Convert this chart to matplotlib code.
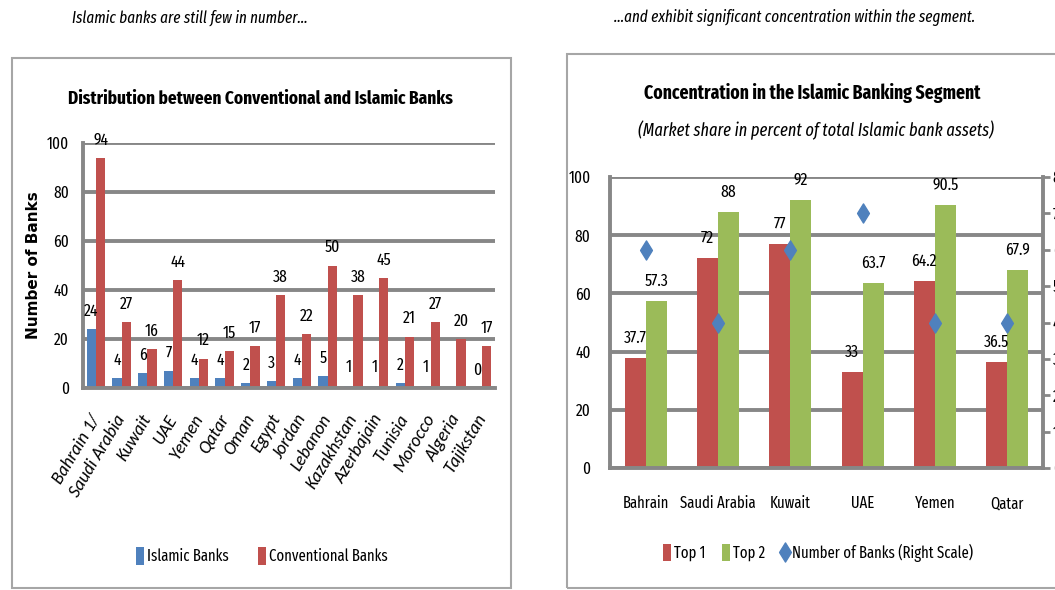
import matplotlib
matplotlib.use("Agg")
import matplotlib.pyplot as plt
from matplotlib.patches import Rectangle
from matplotlib.path import Path
import numpy as np

FONT = "Fira Sans Extra Condensed"
plt.rcParams['font.family'] = [FONT, 'DejaVu Sans']

# left chart data
countries = ["Bahrain 1/", "Saudi Arabia", "Kuwait", "UAE", "Yemen", "Qatar", "Oman", "Egypt",
             "Jordan", "Lebanon", "Kazakhstan", "Azerbajain", "Tunisia", "Morocco", "Algeria", "Tajikstan"]
islamic = [24, 4, 6, 7, 4, 4, 2, 3, 4, 5, 1, 1, 2, 1, np.nan, 0]
conventional = [94, 27, 16, 44, 12, 15, 17, 38, 22, 50, 38, 45, 21, 27, 20, 17]

# right chart data
seg_countries = ["Bahrain", "Saudi Arabia", "Kuwait", "UAE", "Yemen", "Qatar"]
top1 = [37.7, 72, 77, 33, 64.2, 36.5]
top2 = [57.3, 88, 92, 63.7, 90.5, 67.9]
n_banks = [6, 4, 6, 7, 4, 4]

BLUE = "#4F81BD"
RED = "#C0504D"
GREEN = "#9BBB59"
GRID = "#878787"
W, H = 1055, 590
FS = 11.5
LFS = 12.2   # data labels

fig = plt.figure(figsize=(10.55, 5.9), dpi=100)


def fx(px):
    return px / W


def fy(py):
    return 1 - py / H


# boxes around the two charts
fig.patches.append(Rectangle((fx(12), fy(588)), fx(499), (588 - 58) / H,
                             transform=fig.transFigure, fill=False, ec="#A6A6A6", lw=1.5))
fig.patches.append(Rectangle((fx(567), fy(588)), 0.5, (588 - 54) / H,
                             transform=fig.transFigure, fill=False, ec="#A6A6A6", lw=1.5))

fig.text(fx(190), fy(18), "Islamic banks are still few in number...", style="italic",
         ha="center", va="center", fontsize=11.8)
fig.text(fx(795), fy(18), "...and exhibit significant concentration within the segment.",
         style="italic", ha="center", va="center", fontsize=11.8)


def style_axes(ax):
    ax.yaxis.grid(True, color=GRID, lw=2.8)
    ax.set_axisbelow(True)
    for s in ["top", "right"]:
        ax.spines[s].set_visible(False)
    for s in ["left", "bottom"]:
        ax.spines[s].set_color(GRID)
        ax.spines[s].set_linewidth(2.8)
    ax.tick_params(axis="both", length=0, labelsize=FS, pad=6)


# ---- left chart
ax1 = fig.add_axes([fx(83), fy(388), fx(495 - 83), (388 - 143) / H])
x = np.arange(len(countries))
w = 0.36
b1 = ax1.bar(x - w / 2, islamic, w, color=BLUE)
b2 = ax1.bar(x + w / 2, conventional, w, color=RED)
for xi, v in zip(x, islamic):
    if not np.isnan(v):
        ax1.text(xi - w / 2, v + 4, f"{int(v)}", ha="center", va="bottom", fontsize=LFS)
for xi, v in zip(x, conventional):
    ax1.text(xi + w / 2, v + 4, f"{int(v)}", ha="center", va="bottom", fontsize=LFS)
ax1.set_ylim(0, 100)
ax1.set_xlim(-0.5, len(countries) - 0.5)
ax1.set_yticks(range(0, 101, 20))
ax1.set_xticks(x)
ax1.set_xticklabels(countries, rotation=59, ha="right", va="center", rotation_mode="anchor",
                    style="italic", family="Carlito", fontsize=13)
style_axes(ax1)
ax1.tick_params(axis="x", pad=20, labelsize=13)
ax1.tick_params(axis="y", pad=10, labelsize=12)
ax1.set_ylabel("Number of Banks", fontsize=11, fontweight="bold", family="DejaVu Sans")
ax1.yaxis.set_label_coords(-0.102, 0.5)
fig.text(fx(260), fy(99), "Distribution between Conventional and Islamic Banks",
         fontsize=13.5, fontweight="bold", ha="center", va="center")
ax1.legend([b1, b2], ["Islamic Banks", "Conventional Banks"], loc="center",
           bbox_to_anchor=(fx(262), fy(556)), bbox_transform=fig.transFigure,
           ncol=2, frameon=False, fontsize=FS, handlelength=0.5, handleheight=1.3,
           handletextpad=0.2, columnspacing=1.8)

# ---- right chart
ax2 = fig.add_axes([fx(610), fy(468), fx(1043 - 610), (468 - 177) / H])
x2 = np.arange(len(seg_countries))
w2 = 0.29
r1 = ax2.bar(x2 - w2 / 2, top1, w2, color=RED)
r2 = ax2.bar(x2 + w2 / 2, top2, w2, color=GREEN)
for xi, v in zip(x2, top1):
    ax2.text(xi - w2 / 2, v + 4, f"{v:g}", ha="center", va="bottom", fontsize=LFS)
for xi, v in zip(x2, top2):
    ax2.text(xi + w2 / 2, v + 4, f"{v:g}", ha="center", va="bottom", fontsize=LFS)
ax2.set_ylim(0, 100)
ax2.set_xlim(-0.5, len(seg_countries) - 0.5)
ax2.set_yticks(range(0, 101, 20))
ax2.set_xticks(x2)
ax2.set_xticklabels(seg_countries, va="baseline")
style_axes(ax2)
ax2.tick_params(axis="x", pad=29)
ax2.tick_params(axis="y", pad=14, labelsize=12)

diamond = Path([(0, 1), (0.62, 0), (0, -1), (-0.62, 0), (0, 1)],
               [Path.MOVETO, Path.LINETO, Path.LINETO, Path.LINETO, Path.CLOSEPOLY])
ax3 = ax2.twinx()
d = ax3.scatter(x2, n_banks, marker=diamond, s=190, color=BLUE, zorder=5)
ax3.set_ylim(0, 8)
ax3.set_yticks(range(0, 9))
for s in ["top", "left", "bottom"]:
    ax3.spines[s].set_visible(False)
ax3.spines["right"].set_color(GRID)
ax3.spines["right"].set_linewidth(2.8)
ax3.tick_params(axis="y", length=5, width=2, color=GRID, labelsize=12, pad=2)

fig.text(fx(812), fy(93), "Concentration in the Islamic Banking Segment",
         fontsize=13.8, fontweight="bold", ha="center", va="center")
fig.text(fx(816), fy(130), "(Market share in percent of total Islamic bank assets)",
         style="italic", ha="center", va="center", fontsize=12.8)
ax2.legend([r1, r2, d], ["Top 1", "Top 2", "Number of Banks (Right Scale)"], loc="center",
           bbox_to_anchor=(fx(818), fy(553)), bbox_transform=fig.transFigure,
           ncol=3, frameon=False, fontsize=FS, handlelength=0.5, handleheight=1.3,
           handletextpad=0.2, columnspacing=1.0)

fig.savefig("out.png", dpi=100)
